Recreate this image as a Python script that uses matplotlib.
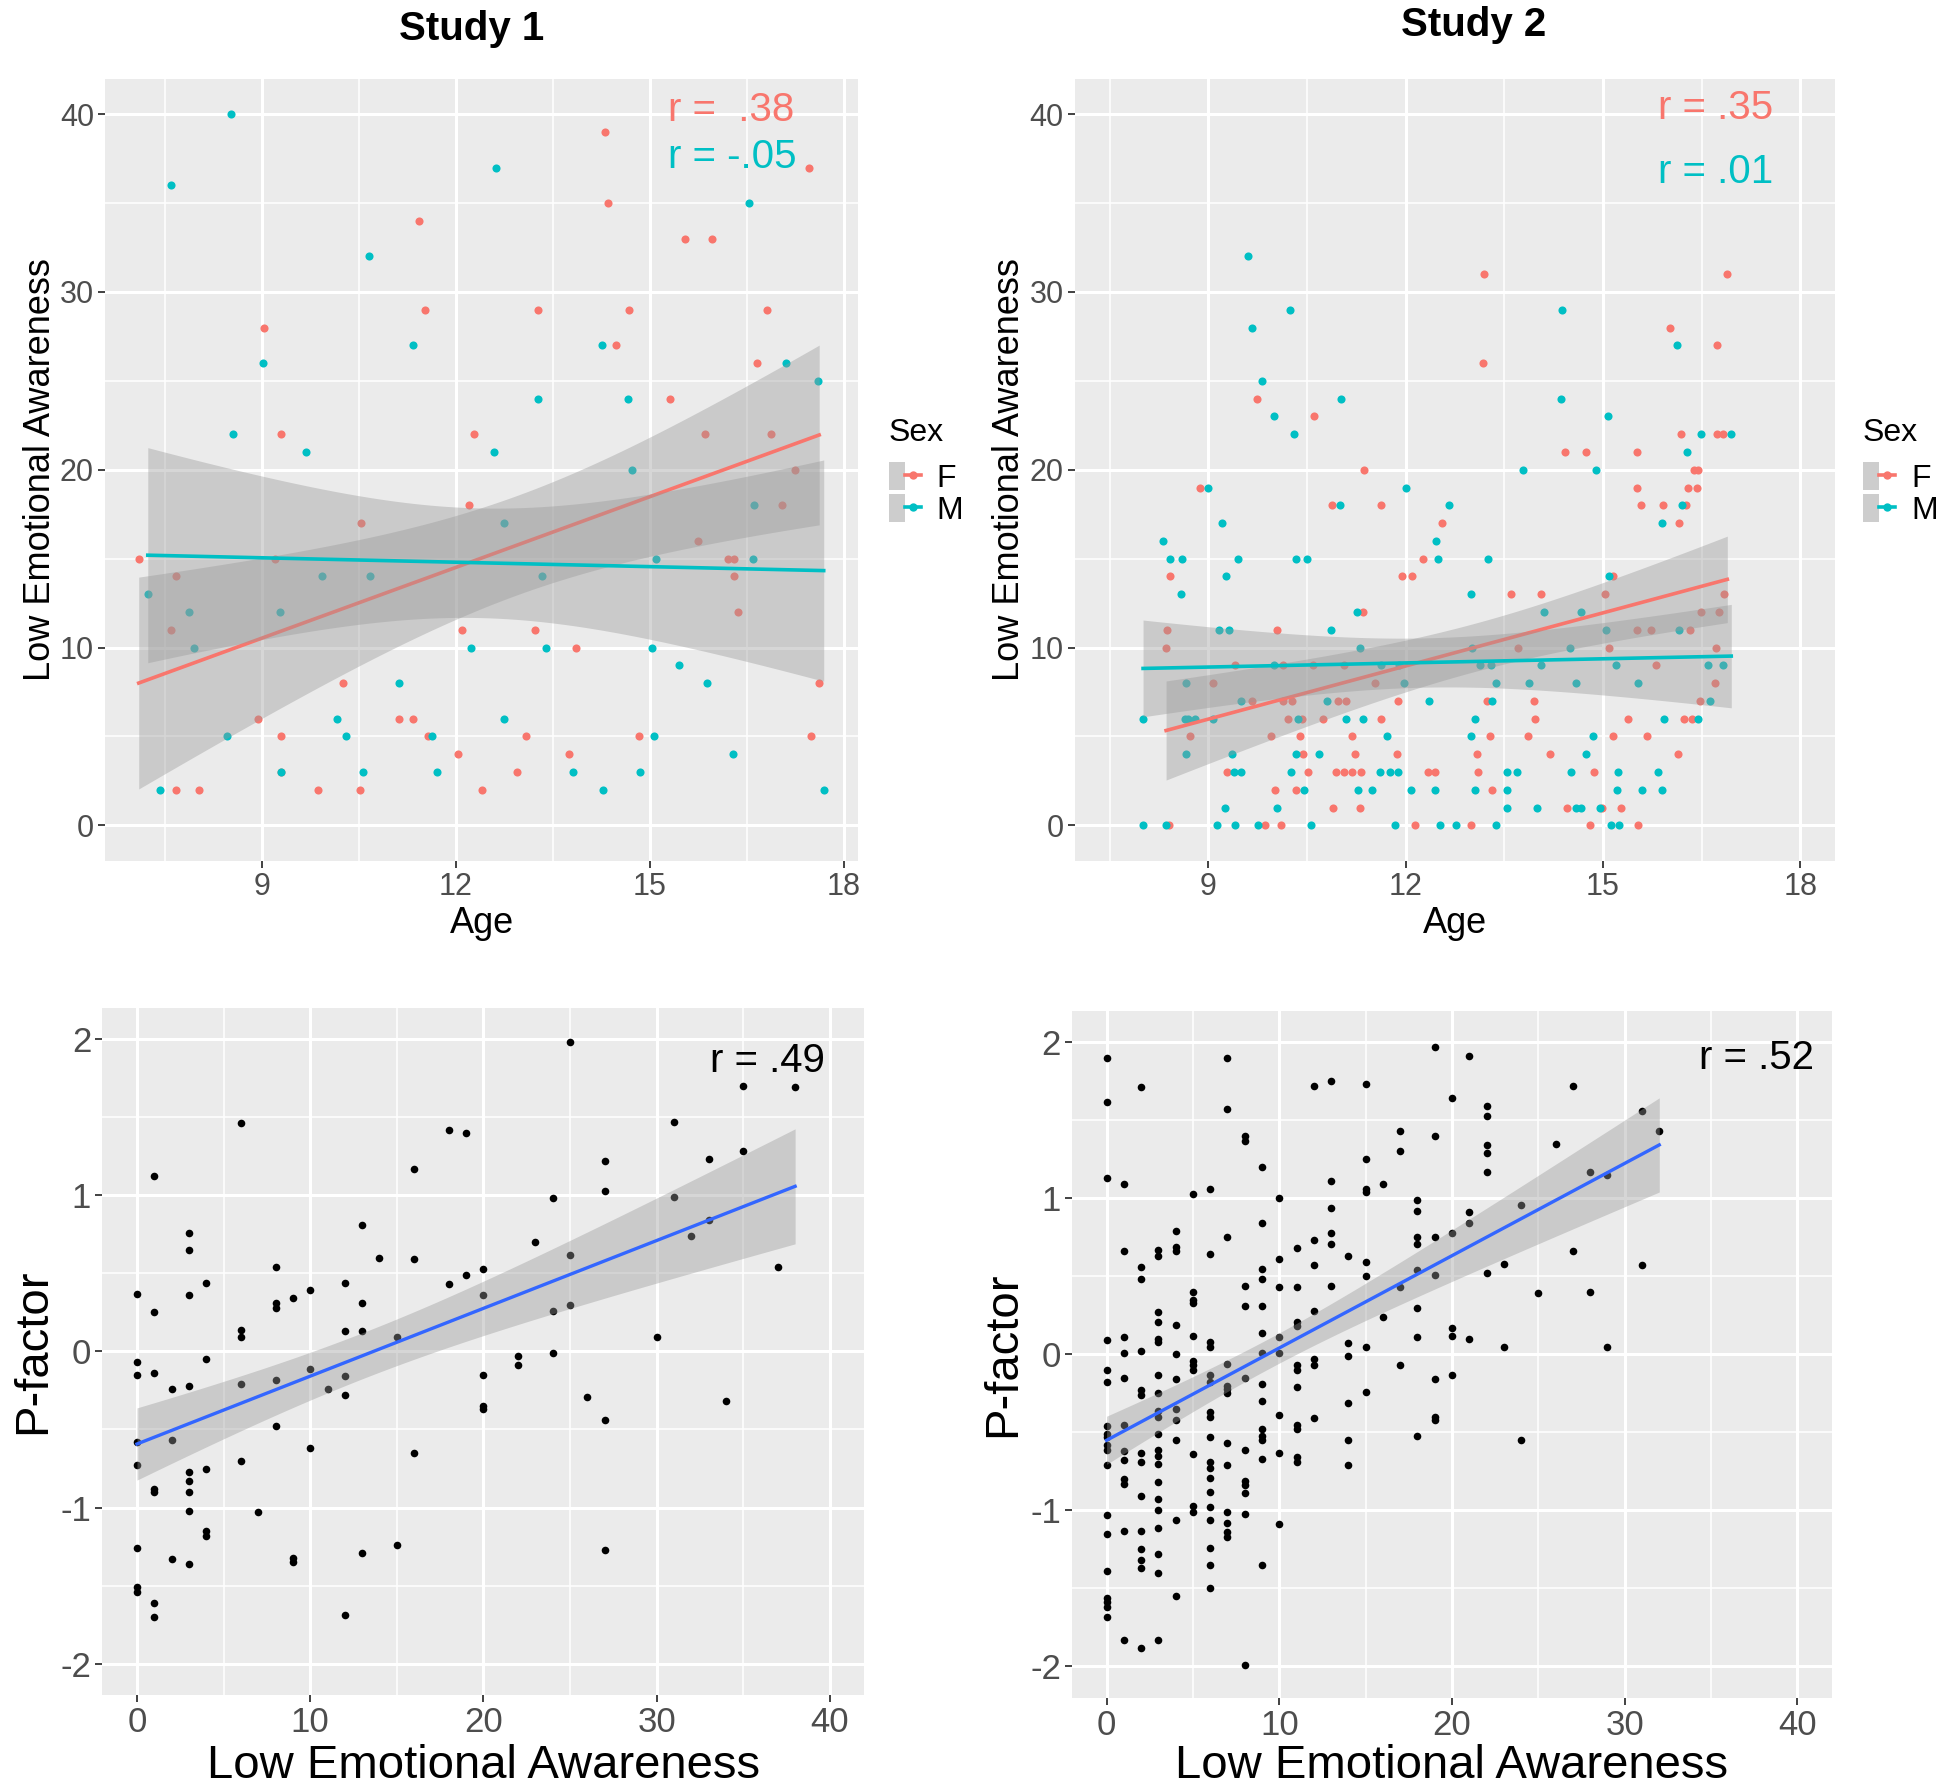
import numpy as np
import matplotlib.pyplot as plt
from matplotlib.lines import Line2D
from matplotlib.patches import Patch
from matplotlib.legend_handler import HandlerTuple

plt.rcParams['font.family'] = ['Liberation Sans', 'DejaVu Sans']
plt.rcParams['axes.unicode_minus'] = False

RED = '#F8766D'
CYAN = '#00BFC4'
BLUE = '#3366FF'

# ---- Study 1, top: age vs low emotional awareness, by sex
s1_f_age = [7.10, 7.60, 7.67, 7.67, 8.03, 8.95, 9.04, 9.20, 9.30, 9.30, 9.30, 9.87,
            10.26, 10.52, 10.54, 11.12, 11.34, 11.44, 11.53, 11.57, 12.04, 12.10,
            12.20, 12.29, 12.40, 12.95, 13.08, 13.23, 13.27, 13.75, 13.86, 14.31,
            14.35, 14.48, 14.68, 14.83, 15.32, 15.54, 15.75, 15.85, 15.97, 16.21,
            16.30, 16.30, 16.37, 16.66, 16.81, 16.87, 17.04, 17.25, 17.46, 17.50, 17.62]
s1_f_lea = [15, 11, 14, 2, 2, 6, 28, 15, 22, 5, 3, 2,
            8, 2, 17, 6, 6, 34, 29, 5, 4, 11,
            18, 22, 2, 3, 5, 11, 29, 4, 10, 39,
            35, 27, 29, 5, 24, 33, 16, 22, 33, 15,
            15, 14, 12, 26, 29, 22, 18, 20, 37, 5, 8]
s1_m_age = [7.24, 7.43, 7.60, 7.88, 7.95, 8.46, 8.525, 8.55, 9.02, 9.29, 9.30, 9.69,
            9.94, 10.16, 10.31, 10.57, 10.66, 10.67, 11.12, 11.34, 11.64, 11.71,
            12.23, 12.60, 12.63, 12.74, 12.75, 13.27, 13.33, 13.39, 13.81, 14.27,
            14.28, 14.67, 14.73, 14.85, 15.03, 15.07, 15.10, 15.45, 15.89, 16.29,
            16.53, 16.60, 16.62, 17.10, 17.60, 17.69]
s1_m_lea = [13, 2, 36, 12, 10, 5, 40, 22, 26, 12, 3, 21,
            14, 6, 5, 3, 32, 14, 8, 27, 5, 3,
            10, 21, 37, 6, 17, 24, 14, 10, 3, 27,
            2, 24, 20, 3, 10, 5, 15, 9, 8, 4,
            35, 15, 18, 26, 25, 2]

# ---- Study 2, top
s2_f_age = [9.74, 10.61, 11.37, 8.88, 10.88, 11.63, 8.42, 11.95, 12.10, 12.26, 12.56, 11.36,
            8.38, 10.04, 8.36, 9.41, 10.13, 10.59, 11.06, 9.07, 11.54, 9.67, 10.13, 10.27,
            10.97, 11.10, 11.89, 10.21, 10.42, 10.75, 11.62, 8.73, 9.95, 10.40, 11.19, 10.44,
            11.23, 11.87, 9.28, 10.51, 10.95, 11.06, 11.19, 11.32, 12.34, 12.44, 10.01, 10.33,
            10.89, 11.31, 8.40, 9.87, 10.10, 12.15,
            13.19, 16.89, 16.02, 16.73, 13.17, 16.19, 16.73, 16.83, 14.43, 14.74, 15.51, 16.38,
            16.45, 15.51, 16.29, 16.43, 15.58, 15.92, 16.26, 16.15, 15.15, 13.60, 14.06, 15.03,
            16.84, 16.49, 16.77, 15.51, 15.73, 16.32, 13.71, 15.09, 16.72, 15.81, 16.71, 13.23,
            13.95, 16.47, 13.96, 15.38, 16.23, 16.36, 13.29, 13.86, 15.15, 15.67, 13.08, 14.19,
            16.14, 13.10, 14.86, 13.31, 14.45, 14.99, 15.27, 12.99, 14.80, 15.53]
s2_f_lea = [24, 23, 20, 19, 18, 18, 14, 14, 14, 15, 17, 12,
            11, 11, 10, 9, 9, 9, 9, 8, 8, 7, 7, 7,
            7, 7, 7, 6, 6, 6, 6, 5, 5, 5, 5, 4,
            4, 4, 3, 3, 3, 3, 3, 3, 3, 3, 2, 2,
            1, 1, 0, 0, 0, 0,
            31, 31, 28, 27, 26, 22, 22, 22, 21, 21, 21, 20,
            20, 19, 19, 19, 18, 18, 18, 17, 14, 13, 13, 13,
            13, 12, 12, 11, 11, 11, 10, 10, 10, 9, 8, 7,
            7, 7, 6, 6, 6, 6, 5, 5, 5, 5, 4, 4,
            4, 3, 3, 2, 1, 1, 1, 0, 0, 0]
s2_m_age = [9.61, 10.24, 9.66, 9.82, 11.02, 10.00, 10.30, 9.00, 12.01, 9.21, 8.32, 8.42,
            8.60, 9.46, 10.33, 10.50, 11.01, 9.27, 8.59, 11.26, 9.17, 9.32, 10.86, 11.31,
            8.67, 11.98, 9.50, 10.81, 12.35, 8.01, 8.64, 8.70, 8.80, 9.08, 10.36, 11.10,
            11.35, 11.72, 8.67, 9.36, 10.33, 10.68, 9.39, 9.50, 10.26, 11.61, 11.77, 11.88,
            10.45, 11.27, 11.49, 12.08, 12.45, 9.25, 10.04, 8.01, 8.36, 9.13, 9.41, 9.75,
            10.57, 11.84, 12.52, 10.00, 11.63, 11.90, 12.46, 12.49,
            14.37, 16.12, 14.36, 15.07, 16.49, 16.95, 16.27, 13.79, 14.89, 16.20, 15.89, 12.66,
            13.25, 15.09, 12.99, 14.11, 14.67, 15.04, 16.16, 13.01, 14.50, 13.13, 13.30, 14.06,
            15.20, 16.60, 16.83, 13.38, 13.87, 14.59, 15.53, 13.32, 16.63, 13.06, 15.93, 16.45,
            12.99, 14.85, 14.74, 13.54, 13.70, 14.51, 15.23, 15.83, 13.06, 13.54, 15.22, 15.60,
            15.90, 13.54, 14.00, 14.59, 14.66, 14.95, 12.76, 13.37, 15.12, 15.24]
s2_m_lea = [32, 29, 28, 25, 24, 23, 22, 19, 19, 17, 16, 15,
            15, 15, 15, 15, 18, 14, 13, 12, 11, 11, 11, 10,
            8, 8, 7, 7, 7, 6, 6, 6, 6, 6, 6, 6,
            6, 5, 4, 4, 4, 4, 3, 3, 3, 3, 3, 3,
            2, 2, 2, 2, 2, 1, 1, 0, 0, 0, 0, 0,
            0, 0, 0, 9, 9, 9, 16, 15,
            29, 27, 24, 23, 22, 22, 21, 20, 20, 18, 17, 18,
            15, 14, 13, 12, 12, 11, 11, 10, 10, 9, 9, 9,
            9, 9, 9, 8, 8, 8, 8, 7, 7, 6, 6, 6,
            5, 5, 4, 3, 3, 3, 3, 3, 2, 2, 2, 2,
            2, 1, 1, 1, 1, 1, 0, 0, 0, 0]

# ---- Study 1, bottom: low emotional awareness vs p-factor
s1_lea = [0, 0, 0, 0, 0, 0, 0, 0,
          1, 1, 1, 1, 1, 1, 1,
          2, 2, 2,
          3, 3, 3, 3, 3, 3, 3, 3, 3,
          4, 4, 4, 4, 4,
          6, 6, 6, 6, 6,
          7,
          8, 8, 8, 8, 8,
          9, 9, 9,
          10, 10, 10,
          11,
          12, 12, 12, 12, 12,
          13, 13, 13, 13,
          14,
          15, 15,
          16, 16, 16,
          18, 18,
          19, 19,
          20, 20, 20, 20, 20,
          22, 22,
          23,
          24, 24, 24,
          25, 25, 25,
          26,
          27, 27, 27, 27,
          30,
          31, 31,
          32,
          33, 33,
          34,
          35, 35,
          37,
          38]
s1_pf = [0.37, -0.07, -0.15, -0.58, -0.73, -1.26, -1.51, -1.54,
         1.12, 0.25, -0.14, -0.88, -0.90, -1.61, -1.70,
         -0.24, -0.57, -1.33,
         0.76, 0.65, 0.36, -0.22, -0.77, -0.83, -0.90, -1.02, -1.36,
         0.44, -0.05, -0.75, -1.15, -1.18,
         1.46, 0.14, 0.09, -0.21, -0.70,
         -1.03,
         0.54, 0.31, 0.28, -0.18, -0.48,
         0.34, -1.32, -1.35,
         0.39, -0.11, -0.62,
         -0.24,
         0.44, 0.13, -0.16, -0.28, -1.69,
         0.81, 0.31, 0.13, -1.29,
         0.60,
         0.09, -1.24,
         1.17, 0.59, -0.65,
         1.42, 0.43,
         1.40, 0.49,
         0.53, 0.36, -0.15, -0.35, -0.37,
         -0.03, -0.09,
         0.70,
         0.98, 0.26, -0.01,
         1.98, 0.62, 0.30,
         -0.29,
         1.22, 1.03, -0.44, -1.27,
         0.09,
         1.47, 0.99,
         0.74,
         1.23, 0.84,
         -0.32,
         1.70, 1.28,
         0.54,
         1.69]

# ---- Study 2, bottom
s2_lea = ([0] * 19 + [1] * 12 + [2] * 14 + [3] * 21 + [4] * 11 + [5] * 11 + [6] * 18
          + [7] * 13 + [8] * 11 + [9] * 14 + [10] * 8 + [11] * 11 + [12] * 7 + [13] * 6
          + [14] * 6 + [15] * 8 + [16] * 2 + [17] * 4 + [18] * 8 + [19] * 7 + [20] * 5
          + [21] * 4 + [22] * 6 + [23] * 2 + [24] * 2 + [25] + [26] + [27] * 2 + [28] * 2
          + [29] * 2 + [31] * 2 + [32])
s2_pf = [1.90, 1.62, 1.13, 0.09, -0.10, -0.18, -0.46, -0.51, -0.53, -0.58, -0.61, -0.71,
         -1.03, -1.15, -1.39, -1.56, -1.59, -1.62, -1.68,
         1.09, 0.66, 0.11, 0.01, -0.15, -0.45, -0.62, -0.68, -0.80, -0.83, -1.13, -1.83,
         1.71, 0.56, 0.48, 0.02, -0.23, -0.26, -0.63, -0.69, -0.91, -1.13, -1.25, -1.32,
         -1.37, -1.88,
         0.67, 0.63, 0.27, 0.21, 0.10, 0.08, -0.13, -0.25, -0.36, -0.40, -0.51, -0.61,
         -0.65, -0.70, -0.82, -0.93, -1.00, -1.11, -1.28, -1.40, -1.83,
         0.79, 0.69, 0.66, 0.19, 0.00, -0.16, -0.35, -0.42, -0.55, -1.06, -1.55,
         1.03, 0.40, 0.35, 0.33, 0.12, -0.04, -0.07, -0.10, -0.64, -0.97, -1.01,
         1.06, 0.64, 0.08, 0.05, -0.13, -0.18, -0.37, -0.40, -0.53, -0.69, -0.73, -0.79,
         -0.88, -0.98, -1.06, -1.24, -1.35, -1.50,
         1.90, 1.57, 0.75, -0.06, -0.20, -0.22, -0.25, -0.57, -0.71, -1.01, -1.08, -1.14, -1.17,
         1.40, 1.37, 0.44, 0.31, -0.15, -0.61, -0.81, -0.84, -0.89, -1.02, -1.99,
         1.20, 0.84, 0.55, 0.48, 0.31, 0.14, 0.01, -0.19, -0.30, -0.48, -0.52, -0.55,
         -0.67, -1.35,
         1.00, 0.61, 0.43, 0.11, 0.01, -0.39, -0.63, -1.09,
         0.68, 0.43, 0.21, 0.18, -0.07, -0.10, -0.21, -0.45, -0.48, -0.66, -0.69,
         1.72, 0.73, 0.57, 0.28, -0.03, -0.07, -0.41,
         1.75, 1.11, 0.94, 0.78, 0.71, 0.44,
         0.63, 0.07, -0.01, -0.31, -0.55, -0.71,
         1.73, 1.25, 1.06, 1.04, 0.59, 0.50, 0.05, -0.24,
         1.09, 0.24,
         1.43, 1.30, 0.43, -0.07,
         0.99, 0.92, 0.75, 0.71, 0.54, 0.30, 0.11, -0.52,
         1.97, 1.40, 0.75, 0.51, -0.16, -0.40, -0.42,
         1.64, 0.78, 0.17, 0.12, -0.13,
         1.91, 0.91, 0.84, 0.10,
         1.59, 1.53, 1.34, 1.29, 1.17, 0.52,
         0.58, 0.05,
         0.96, -0.55,
         0.39,
         1.35,
         1.72, 0.66,
         1.17, 0.40,
         1.15, 0.05,
         1.56, 0.57,
         1.43]

r_top1 = ['r =  .38', 'r = -.05']
r_top2 = ['r = .35', 'r = .01']
r_bot1 = 'r = .49'
r_bot2 = 'r = .52'


def lm_band(x, y, n=80):
    # linear fit with 95% confidence band, like geom_smooth(method = "lm")
    x = np.asarray(x, float)
    y = np.asarray(y, float)
    slope, icpt = np.polyfit(x, y, 1)
    xs = np.linspace(x.min(), x.max(), n)
    fit = icpt + slope * xs
    k = len(x)
    s = np.sqrt(np.sum((y - (icpt + slope * x)) ** 2) / (k - 2))
    se = s * np.sqrt(1 / k + (xs - x.mean()) ** 2 / np.sum((x - x.mean()) ** 2))
    t = 1.98 if k < 150 else 1.97
    return xs, fit, fit - t * se, fit + t * se


def add_smooth(ax, x, y, color, lw):
    xs, fit, lo, hi = lm_band(x, y)
    ax.fill_between(xs, lo, hi, color='#999999', alpha=0.4, linewidth=0, zorder=3)
    ax.plot(xs, fit, color=color, linewidth=lw, zorder=3)


fig = plt.figure(figsize=(19.46, 17.91), dpi=100)


def panel(rect, xlim, ylim, xmaj, xmin, ymaj, ymin, tsize):
    ax = fig.add_axes(rect)
    ax.set_facecolor('#EBEBEB')
    for sp in ax.spines.values():
        sp.set_visible(False)
    ax.set_xlim(*xlim)
    ax.set_ylim(*ylim)
    ax.set_xticks(xmaj)
    ax.set_xticks(xmin, minor=True)
    ax.set_yticks(ymaj)
    ax.set_yticks(ymin, minor=True)
    ax.grid(True, which='major', color='white', linewidth=2.2)
    ax.grid(True, which='minor', color='white', linewidth=1.1)
    ax.set_axisbelow(True)
    ax.tick_params(which='major', length=5, width=1.3, color='#333333',
                   labelcolor='#4D4D4D', labelsize=tsize, pad=3)
    ax.tick_params(which='minor', length=0)
    return ax


top_xmaj = [9, 12, 15, 18]
top_xmin = [7.5, 10.5, 13.5, 16.5]
top_ymaj = [0, 10, 20, 30, 40]
top_ymin = [5, 15, 25, 35]

ax1 = panel([0.0540, 0.5193, 0.3869, 0.4368], (6.58, 18.22), (-2, 42),
            top_xmaj, top_xmin, top_ymaj, top_ymin, 22)
ax2 = panel([0.5524, 0.5193, 0.3905, 0.4368], (6.975, 18.525), (-2, 42),
            top_xmaj, top_xmin, top_ymaj, top_ymin, 22)

for ax, fa, fl, ma, ml, lx in [(ax1, s1_f_age, s1_f_lea, s1_m_age, s1_m_lea, 1.041),
                               (ax2, s2_f_age, s2_f_lea, s2_m_age, s2_m_lea, 1.037)]:
    ax.scatter(fa, fl, s=34, color=RED, linewidths=0, zorder=2)
    ax.scatter(ma, ml, s=34, color=CYAN, linewidths=0, zorder=2)
    add_smooth(ax, fa, fl, RED, 2.6)
    add_smooth(ax, ma, ml, CYAN, 2.6)
    ax.set_xlabel('Age', fontsize=26)
    ax.xaxis.set_label_coords(0.5, -0.058)
    ax.set_ylabel('Low Emotional Awareness', fontsize=26)
    ax.yaxis.set_label_coords(-0.063, 0.5)
    handles = [(Patch(facecolor='#CDCDCD', edgecolor='none'),
                Line2D([], [], color=c, lw=2.6, marker='o', markersize=6, markeredgewidth=0))
               for c in (RED, CYAN)]
    ax.legend(handles, ['F', 'M'], loc='upper left',
              bbox_to_anchor=(lx, 0.510), frameon=False, fontsize=23,
              handlelength=1.0, handleheight=0.985,
              labelspacing=0.0, handletextpad=0.5, borderpad=0,
              borderaxespad=0,
              handler_map={tuple: HandlerTuple(ndivide=None, pad=0)})
    ax.text(lx, 0.547, 'Sex', transform=ax.transAxes, fontsize=23,
            ha='left', va='center')

ax1.text(15.28, 39.62, r_top1[0], color=RED, fontsize=29, va='baseline')
ax1.text(15.28, 36.97, r_top1[1], color=CYAN, fontsize=29, va='baseline')
ax2.text(15.83, 39.74, r_top2[0], color=RED, fontsize=29, va='baseline')
ax2.text(15.83, 36.15, r_top2[1], color=CYAN, fontsize=29, va='baseline')

bot_xmaj = [0, 10, 20, 30, 40]
bot_xmin = [5, 15, 25, 35]
bot_ymaj = [-2, -1, 0, 1, 2]
bot_ymin = [-1.5, -0.5, 0.5, 1.5]

ax3 = panel([0.0526, 0.0536, 0.3916, 0.3837], (-2, 42), (-2.2, 2.2),
            bot_xmaj, bot_xmin, bot_ymaj, bot_ymin, 25)
ax4 = panel([0.5509, 0.0521, 0.3905, 0.3834], (-2, 42), (-2.2, 2.2),
            bot_xmaj, bot_xmin, bot_ymaj, bot_ymin, 25)

for ax, xv, yv in [(ax3, s1_lea, s1_pf), (ax4, s2_lea, s2_pf)]:
    ax.scatter(xv, yv, s=30, color='black', linewidths=0, zorder=2)
    add_smooth(ax, xv, yv, BLUE, 2.4)
    ax.set_xlabel('Low Emotional Awareness', fontsize=34)
    ax.set_ylabel('P-factor', fontsize=34)
    ax.yaxis.set_label_coords(-0.062, 0.5)

ax3.xaxis.set_label_coords(0.5, -0.071)
ax4.xaxis.set_label_coords(0.5, -0.067)
ax3.text(33.08, 1.79, r_bot1, color='black', fontsize=29, va='baseline')
ax4.text(34.3, 1.83, r_bot2, color='black', fontsize=29, va='baseline')

fig.text(472 / 1946, 1 - 29 / 1791, 'Study 1', fontsize=29, fontweight='bold',
         ha='center', va='center')
fig.text(1474 / 1946, 1 - 25 / 1791, 'Study 2', fontsize=29, fontweight='bold',
         ha='center', va='center')

fig.savefig('out.png', dpi=100)
